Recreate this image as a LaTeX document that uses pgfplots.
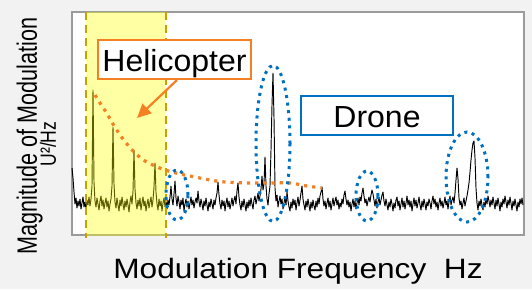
\documentclass[border=0pt]{standalone}
\usepackage{pgfplots}
\pgfplotsset{compat=1.18}
\usepackage{pgfplotstable}
\usepackage{fontspec}
\setmainfont{Liberation Sans}
\usetikzlibrary{arrows.meta}
\definecolor{bggray}{RGB}{242,242,242}
\definecolor{boxgray}{RGB}{155,155,155}
\definecolor{heliorange}{RGB}{245,128,35}
\definecolor{droneblue}{RGB}{0,112,192}
\definecolor{gold}{RGB}{200,160,0}
\definecolor{hiyellow}{RGB}{255,255,0}

\pgfplotstableread{
x y
72 168
73 178
74 192
75 204
76 198
77 208
78 201
79 206
80 199
81 209
82 203
83 197
84 207
85 202
86 210
87 200
88 205
89 197
90 206
91 199
92 186
93 90
94 182
95 201
96 207
97 198
98 204
99 210
100 201
101 196
102 206
103 200
104 209
105 203
106 198
107 207
108 201
109 211
110 204
111 199
112 186
113 127
114 184
115 202
116 208
117 198
118 205
119 211
120 200
121 206
122 197
123 204
124 210
125 201
126 207
127 199
128 205
129 212
130 202
131 196
132 204
133 191
134 150
135 189
136 203
137 209
138 200
139 206
140 198
141 210
142 203
143 197
144 206
145 201
146 211
147 204
148 199
149 208
150 202
151 197
152 207
153 200
154 187
155 163
156 192
157 204
158 210
159 199
160 206
161 201
162 211
163 203
164 198
165 207
166 201
167 209
168 200
169 205
170 197
171 186
172 199
173 205
174 194
175 181
176 198
177 206
178 196
179 202
180 209
181 200
182 205
183 198
184 211
185 204
186 199
187 207
188 201
189 209
190 203
191 197
192 205
193 200
194 208
195 202
196 198
197 203
198 191
199 201
200 207
201 199
202 204
203 210
204 201
205 206
206 198
207 205
208 211
209 202
210 207
211 199
212 204
213 209
214 200
215 205
216 198
217 193
218 182
219 195
220 204
221 209
222 200
223 206
224 201
225 211
226 203
227 198
228 207
229 201
230 209
231 204
232 198
233 206
234 200
235 196
236 204
237 191
238 183
239 197
240 205
241 210
242 201
243 207
244 199
245 205
246 211
247 202
248 208
249 200
250 206
251 198
252 204
253 209
254 200
255 196
256 204
257 199
258 193
259 201
260 196
261 189
262 176
263 190
264 184
265 157
266 186
267 199
268 205
269 194
270 186
271 150
272 105
273 73
274 118
275 188
276 201
277 195
278 207
279 201
280 196
281 204
282 199
283 209
284 203
285 197
286 205
287 192
288 201
289 207
290 211
291 202
292 208
293 199
294 205
295 200
296 210
297 203
298 197
299 206
300 200
301 193
302 186
303 199
304 205
305 210
306 201
307 207
308 199
309 205
310 211
311 202
312 208
313 200
314 206
315 210
316 201
317 207
318 198
319 204
320 196
321 192
322 187
323 199
324 206
325 201
326 209
327 203
328 198
329 207
330 201
331 210
332 204
333 198
334 206
335 201
336 197
337 205
338 200
339 209
340 203
341 207
342 199
343 204
344 195
345 191
346 199
347 205
348 200
349 207
350 202
351 211
352 204
353 199
354 207
355 201
356 209
357 203
358 198
359 205
360 197
361 201
362 193
363 188
364 196
365 203
366 199
367 206
368 201
369 197
370 202
371 195
372 190
373 194
374 200
375 206
376 199
377 208
378 202
379 197
380 205
381 200
382 195
383 192
384 201
385 206
386 199
387 205
388 210
389 202
390 207
391 199
392 204
393 211
394 203
395 208
396 200
397 197
398 206
399 201
400 210
401 204
402 198
403 207
404 201
405 209
406 203
407 196
408 205
409 200
410 207
411 201
412 211
413 204
414 198
415 206
416 200
417 208
418 203
419 197
420 205
421 210
422 201
423 207
424 199
425 204
426 210
427 202
428 206
429 199
430 203
431 209
432 201
433 196
434 204
435 199
436 207
437 202
438 210
439 203
440 198
441 206
442 201
443 208
444 203
445 197
446 205
447 201
448 209
449 202
450 196
451 205
452 200
453 197
454 203
455 193
456 180
457 168
458 179
459 198
460 205
461 201
462 209
463 203
464 198
465 206
466 201
467 196
468 190
469 183
470 172
471 160
472 150
473 143
474 141
475 158
476 188
477 203
478 210
479 201
480 206
481 199
482 205
483 210
484 202
485 207
486 199
487 204
488 196
489 201
490 207
491 200
492 205
493 197
494 203
495 209
496 200
497 206
498 198
499 204
500 211
501 202
502 207
503 199
504 204
505 196
506 202
507 208
508 200
509 205
510 197
511 203
512 210
513 201
514 206
515 199
516 205
517 211
518 202
519 207
520 199
521 204
522 198
523 205
}\spectrum

\pgfplotstableread{
x y
95 95
100 103
106 112
113 124
120 135
127 144
135 153
145 161
155 166
165 170
180 174
195 177
210 180
225 182
250 183
270 183
290 183
307 186
322 188
}\helicurve

\begin{document}
\begin{tikzpicture}
\fill[bggray] (-72pt,-54pt) rectangle (460pt,235pt);
\begin{axis}[
  at={(0pt,0pt)}, anchor=south west,
  scale only axis, width=452pt, height=223pt,
  xmin=72, xmax=524, ymin=12, ymax=235, y dir=reverse,
  xtick=\empty, ytick=\empty,
  axis line style={draw=boxgray, line width=1.4pt},
  axis background/.style={fill=white},
  clip=false,
]
\addplot[black, line width=0.95pt, line join=round] table[x=x,y=y] {\spectrum};
% helicopter band
\fill[hiyellow, fill opacity=0.36] (axis cs:86,12) rectangle (axis cs:166,236);
\draw[gold, line width=1.6pt, dash pattern=on 8pt off 5pt] (axis cs:86,12) -- (axis cs:86,238);
\draw[gold, line width=1.6pt, dash pattern=on 8pt off 5pt] (axis cs:166,12) -- (axis cs:166,238);
% decay curve
\addplot[heliorange, line width=3.2pt, dash pattern=on 3.2pt off 5pt, smooth] table[x=x,y=y] {\helicurve};
% drone ellipses
\draw[droneblue, line width=3pt, dash pattern=on 3pt off 4.6pt] (axis cs:177,195) ellipse [x radius=11pt, y radius=25pt];
\draw[droneblue, line width=3pt, dash pattern=on 3pt off 4.6pt] (axis cs:273,143.5) ellipse [x radius=17pt, y radius=78pt];
\draw[droneblue, line width=3pt, dash pattern=on 3pt off 4.6pt] (axis cs:367,196) ellipse [x radius=11pt, y radius=25pt];
\draw[droneblue, line width=3pt, dash pattern=on 3pt off 4.6pt] (axis cs:467,177) ellipse [x radius=21pt, y radius=45pt];
% helicopter label box
\draw[heliorange, line width=2pt, fill=white] (axis cs:98,40) rectangle (axis cs:251,79);
\node[anchor=base, inner sep=0pt] at (axis cs:174.5,71.7) {\scalebox{1.05}[1]{\fontsize{30.5}{32}\selectfont Helicopter}};
\draw[heliorange, line width=2.2pt, -{Triangle[length=14pt,width=13pt]}] (axis cs:177,80) -- (axis cs:137,118);
% drone label box
\draw[droneblue, line width=2pt, fill=white] (axis cs:301,96) rectangle (axis cs:453,135);
\node[anchor=base, inner sep=0pt] at (axis cs:377,127) {\scalebox{1.05}[1]{\fontsize{30.5}{32}\selectfont Drone}};
% axis labels
\node[anchor=base, inner sep=0pt] at (axis cs:298,278) {\scalebox{1.13}[1]{\fontsize{28}{30}\selectfont Modulation Frequency\ \ Hz}};
\node[anchor=base, rotate=90, inner sep=0pt] at (axis cs:37,136) {\scalebox{0.77}[1]{\fontsize{28}{30}\selectfont Magnitude of Modulation}};
\node[anchor=base, rotate=90, inner sep=0pt] at (axis cs:56,144) {\scalebox{0.8}[1]{\fontsize{22}{24}\selectfont U²/Hz}};
\end{axis}
\end{tikzpicture}
\end{document}
